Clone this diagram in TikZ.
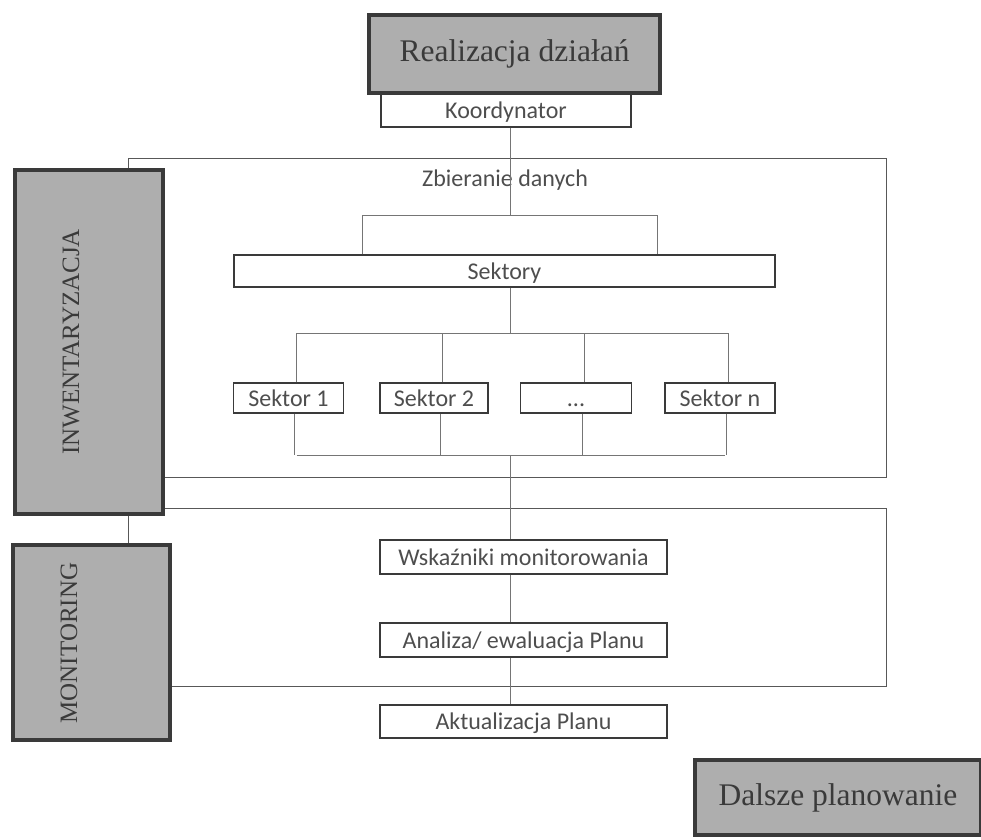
\documentclass[tikz,border=0pt]{standalone}
\usepackage{fontspec}
\setmainfont{Liberation Serif}
\newfontfamily\boxfont{Carlito}
\usetikzlibrary{positioning}

\definecolor{ink}{HTML}{3A3A3A}
\definecolor{shade}{HTML}{AEAEAE}

\begin{document}
\begin{tikzpicture}[
  x=1pt, y=-1pt,
  gbox/.style={draw=ink, line width=3.5pt, fill=shade, text=ink,
               inner sep=0pt, font=\fontsize{31.5}{33}\selectfont},
  sbox/.style={draw=ink, line width=1.4pt, fill=white, text=ink!90,
               inner sep=0pt, text height=19pt, text depth=3pt,
               font=\boxfont\fontsize{24}{26}\selectfont},
  frame/.style={draw=ink!85, line width=1pt},
  conn/.style={draw=ink!70, line width=0.9pt},
  vlabel/.style={rotate=90, text=ink, font=\fontsize{25}{27}\selectfont}
]
\useasboundingbox (0,0) rectangle (981,839);

% section frames
\draw[frame] (128,158) rectangle (886,477);
\draw[frame] (128,508) rectangle (886,686);

% top
\node[sbox, minimum width=250, minimum height=34] (koord) at (506,110) {Koordynator};
\node[gbox, minimum width=291, minimum height=78] (real) at (514.5,54) {Realizacja działań};
\coordinate (trunk) at (510,0);

% data collection
\node[text=ink!90, font=\boxfont\fontsize{24}{26}\selectfont] (zbier) at (505,180) {Zbieranie danych};
\node[sbox, minimum width=541, minimum height=32] (sekt) at (504.5,271) {Sektory};
\node[sbox, minimum width=110, minimum height=30] (s1) at (288.5,398) {Sektor 1};
\node[sbox, minimum width=108, minimum height=30] (s2) at (434,398) {Sektor 2};
\node[sbox, minimum width=111, minimum height=30] (sd) at (576,398) {...};
\node[sbox, minimum width=110, minimum height=30] (sn) at (720,398) {Sektor n};

% monitoring
\node[sbox, minimum width=287, minimum height=34] (wsk) at (523.5,557) {Wskaźniki monitorowania};
\node[sbox, minimum width=287, minimum height=34] (anal) at (523.5,640) {Analiza/ ewaluacja Planu};
\node[sbox, minimum width=287, minimum height=33] (akt) at (523.5,721.5) {Aktualizacja Planu};

% brackets
\coordinate (bl) at (362,215);
\coordinate (br) at (657,215);
\coordinate (up) at (510,333);
\coordinate (lo) at (510,455);
\draw[conn] (koord.south -| trunk) -- (trunk |- bl);
\draw[conn] (bl |- sekt.north) -- (bl) -- (br) -- (br |- sekt.north);
\draw[conn] (sekt.south -| trunk) -- (up);
\draw[conn] ([xshift=8pt]s1.north |- up) -- ([xshift=8pt]sn.north |- up);
\draw[conn] ([xshift=8pt]s1.south |- lo) -- ([xshift=5pt]sn.south |- lo);
\foreach \s in {s1,s2,sd,sn} {
  \draw[conn] ([xshift=8pt]\s.north) -- ([xshift=8pt]\s.north |- up);
  \draw[conn] ([xshift=6pt]\s.south) -- ([xshift=6pt]\s.south |- lo);
}
\draw[conn] (lo) -- (wsk.north -| trunk);
\draw[conn] (wsk.south -| trunk) -- (anal.north -| trunk);
\draw[conn] (anal.south -| trunk) -- (akt.north -| trunk);

% side sections
\node[gbox, minimum width=148, minimum height=344] (inw) at (89,342) {};
\node[vlabel] (inwtxt) at (71,342) {INWENTARYZACJA};
\node[gbox, minimum width=157, minimum height=195] (mon) at (91.5,642.5) {};
\node[vlabel] (montxt) at (69,643) {MONITORING};

\node[gbox, minimum width=286, minimum height=75] (dalsze) at (838,797.5) {Dalsze planowanie};
\end{tikzpicture}
\end{document}
